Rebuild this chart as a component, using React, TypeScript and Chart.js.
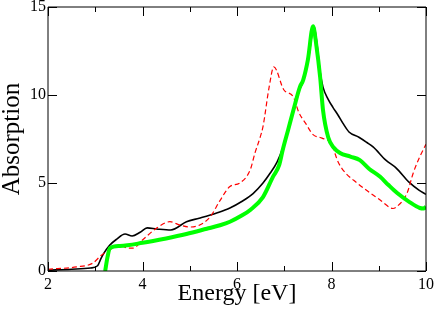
import React, { useEffect, useRef } from "react";
import { Chart, registerables } from "chart.js";
Chart.register(...registerables);

// Energy (eV) / absorption values
const blackX = [2.0, 2.5, 2.9, 3.05, 3.12, 3.18, 3.3, 3.45, 3.63, 3.78, 3.95, 4.1, 4.3, 4.6, 4.93, 5.2, 5.57, 5.85, 6.1, 6.34, 6.55, 6.7, 6.85, 6.97, 7.08, 7.2, 7.31, 7.4, 7.52, 7.63, 7.69, 7.76, 7.82, 7.93, 8.03, 8.14, 8.24, 8.37, 8.58, 8.75, 8.88, 9.15, 9.37, 9.64, 9.85, 10.0];
const blackY = [0.05, 0.1, 0.17, 0.3, 0.7, 1.0, 1.45, 1.8, 2.1, 1.99, 2.2, 2.45, 2.39, 2.33, 2.8, 3.0, 3.3, 3.58, 3.95, 4.4, 5.0, 5.55, 6.2, 7.0, 8.0, 9.1, 10.2, 10.8, 12.2, 13.9, 12.95, 11.3, 10.45, 9.75, 9.3, 8.85, 8.4, 7.9, 7.6, 7.3, 7.05, 6.3, 5.85, 5.05, 4.6, 4.35];

const redX = [2.0, 2.6, 2.95, 3.13, 3.31, 3.52, 3.67, 3.8, 4.0, 4.3, 4.58, 4.8, 5.0, 5.2, 5.43, 5.64, 5.85, 6.06, 6.28, 6.38, 6.49, 6.55, 6.68, 6.78, 6.99, 7.19, 7.31, 7.45, 7.61, 7.8, 7.99, 8.14, 8.24, 8.54, 8.82, 9.03, 9.24, 9.3, 9.38, 9.6, 9.73, 9.87, 10.0];
const redY = [0.1, 0.23, 0.45, 0.9, 1.2, 1.48, 1.31, 1.3, 1.76, 2.44, 2.8, 2.6, 2.5, 2.6, 3.07, 4.0, 4.8, 5.0, 5.75, 6.7, 7.6, 8.2, 10.45, 11.6, 10.3, 9.9, 9.0, 8.4, 7.75, 7.55, 7.25, 6.2, 5.75, 5.0, 4.43, 4.03, 3.6, 3.55, 3.65, 4.43, 5.57, 6.5, 7.2];

const greenX = [3.21, 3.26, 3.31, 3.52, 4.0, 4.5, 4.93, 5.36, 5.64, 5.85, 6.1, 6.28, 6.55, 6.76, 6.89, 6.97, 7.08, 7.2, 7.33, 7.4, 7.5, 7.61, 7.68, 7.76, 7.82, 7.93, 8.05, 8.18, 8.4, 8.6, 8.8, 9.03, 9.2, 9.39, 9.66, 9.87, 9.95, 10.0];
const greenY = [0.0, 0.8, 1.3, 1.42, 1.6, 1.85, 2.1, 2.4, 2.6, 2.8, 3.15, 3.47, 4.2, 5.35, 6.0, 6.9, 8.0, 9.2, 10.45, 10.85, 12.0, 13.9, 12.8, 11.0, 9.15, 7.6, 7.0, 6.7, 6.5, 6.3, 5.8, 5.35, 4.9, 4.43, 3.9, 3.58, 3.55, 3.65];

const xMajorTicks = [2, 4, 6, 8, 10];
const xMinorTicks = [3, 5, 7, 9];
const yMajorTicks = [0, 5, 10, 15];

const FONT = "'Liberation Serif', 'Times New Roman', serif";

const toPoints = (xs: number[], ys: number[]) => xs.map((x, i) => ({ x, y: ys[i] }));

export default function App() {
  const ref = useRef<HTMLCanvasElement>(null);
  useEffect(() => {
    if (!ref.current) return;
    const framePlugin = {
      id: "frame",
      afterDatasetsDraw(chart: any) {
        const { ctx, chartArea } = chart;
        const { left, right, top, bottom } = chartArea;
        const xs = chart.scales.x;
        const ys = chart.scales.y;
        ctx.save();
        ctx.strokeStyle = "#000";
        ctx.lineWidth = 1;
        ctx.beginPath();
        ctx.rect(left, top, right - left, bottom - top);
        ctx.stroke();
        ctx.beginPath();
        const major = 9;
        const minor = 5;
        xMajorTicks.forEach((v) => {
          const p = Math.round(xs.getPixelForValue(v)) + 0.5;
          ctx.moveTo(p, bottom); ctx.lineTo(p, bottom - major);
          ctx.moveTo(p, top); ctx.lineTo(p, top + major);
        });
        xMinorTicks.forEach((v) => {
          const p = Math.round(xs.getPixelForValue(v)) + 0.5;
          ctx.moveTo(p, bottom); ctx.lineTo(p, bottom - minor);
          ctx.moveTo(p, top); ctx.lineTo(p, top + minor);
        });
        yMajorTicks.forEach((v) => {
          const p = Math.round(ys.getPixelForValue(v)) + 0.5;
          ctx.moveTo(left, p); ctx.lineTo(left + major, p);
          ctx.moveTo(right, p); ctx.lineTo(right - major, p);
        });
        ctx.stroke();
        ctx.restore();
      },
    };

    const chart = new Chart(ref.current, {
      type: "line",
      data: {
        datasets: [
          {
            label: "green",
            data: toPoints(greenX, greenY),
            borderColor: "#00ff00",
            borderWidth: 4,
            order: 0,
          },
          {
            label: "red",
            data: toPoints(redX, redY),
            borderColor: "#ff0000",
            borderWidth: 1.2,
            borderDash: [5, 3],
            order: 1,
          },
          {
            label: "black",
            data: toPoints(blackX, blackY),
            borderColor: "#000000",
            borderWidth: 1.6,
            order: 2,
          },
        ],
      },
      options: {
        responsive: false,
        animation: false,
        events: [],
        layout: { padding: { left: 0, top: 7, right: 10, bottom: 0 } },
        elements: {
          point: { radius: 0 },
          line: { cubicInterpolationMode: "monotone", fill: false },
        },
        plugins: { legend: { display: false }, tooltip: { enabled: false } },
        scales: {
          x: {
            type: "linear",
            min: 2,
            max: 10,
            afterFit(s: any) { s.height = 44; s.paddingLeft = 0; s.paddingRight = 0; },
            grid: { display: false, drawTicks: false },
            border: { display: false },
            ticks: {
              stepSize: 2,
              padding: 4,
              color: "#000",
              maxRotation: 0,
              autoSkip: false,
              font: { family: FONT, size: 16 },
            },
            title: {
              display: true,
              text: "Energy [eV]",
              color: "#000",
              font: { family: FONT, size: 24, lineHeight: 1 },
              padding: { top: 0, bottom: 9 },
            },
          },
          y: {
            type: "linear",
            min: 0,
            max: 15,
            afterFit(s: any) { s.width = 48; s.paddingTop = 0; s.paddingBottom = 0; },
            grid: { display: false, drawTicks: false },
            border: { display: false },
            ticks: {
              stepSize: 5,
              padding: 2,
              color: "#000",
              font: { family: FONT, size: 16 },
            },
            title: {
              display: true,
              text: "Absorption",
              color: "#000",
              font: { family: FONT, size: 25, lineHeight: 1 },
              padding: { top: 0, bottom: 0 },
            },
          },
        },
      },
      plugins: [framePlugin],
    } as any);
    return () => chart.destroy();
  }, []);

  return (
    <div style={{ position: "fixed", left: 0, top: 0, width: 436, height: 315, background: "#fff" }}>
      <canvas ref={ref} width={436} height={315} style={{ display: "block" }} />
    </div>
  );
}
